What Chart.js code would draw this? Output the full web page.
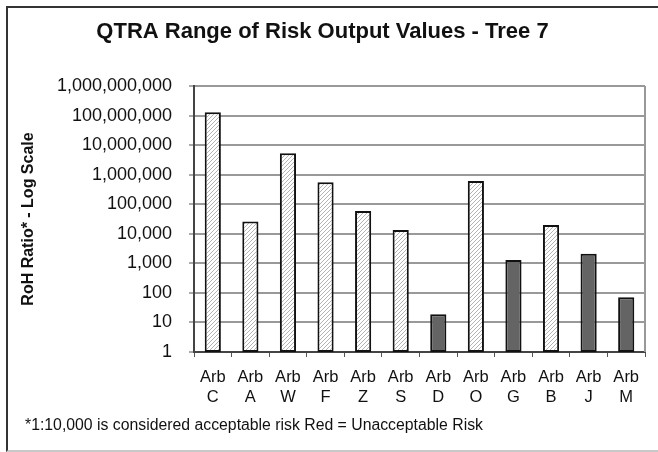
<!DOCTYPE html>
<html>
<head>
<meta charset="utf-8">
<script src="https://cdn.jsdelivr.net/npm/chart.js@4.4.1/dist/chart.umd.min.js"></script>
<style>
  html, body { margin: 0; padding: 0; background: #fff; }
  #wrap { position: relative; width: 658px; height: 452px; overflow: hidden; }
  #frame {
    position: absolute; left: 6px; top: 6px; width: 700px; height: 446px;
    box-sizing: border-box;
    border-left: 2px solid #333; border-top: 2px solid #333; border-bottom: 2px solid #c8c8c8;
  }
  #note {
    position: absolute; left: 25px; top: 416px;
    font: 15.8px "Liberation Sans", Arial, sans-serif; line-height: 18px; color: #111;
    white-space: nowrap;
  }
</style>
</head>
<body>
<div id="wrap">
  <canvas id="chartRisk"></canvas>
  <div id="frame"></div>
  <div id="note">*1:10,000 is considered acceptable risk Red = Unacceptable Risk</div>
</div>
<script>
// data
const letters = ["C", "A", "W", "F", "Z", "S", "D", "O", "G", "B", "J", "M"];
const rohValues = [130000000, 26000, 5300000, 550000, 59000, 13400, 19, 610000, 1300, 20000, 2100, 71];
const barKind = ["hatch", "hatch", "hatch", "hatch", "hatch", "hatch", "solid", "hatch", "solid", "hatch", "solid", "solid"];
const tickValues = [1, 10, 100, 1000, 10000, 100000, 1000000, 10000000, 100000000, 1000000000];

const fontName = "'Liberation Sans', Arial, sans-serif";

// diagonal hatch "/"
function makeHatch() {
  const c = document.createElement("canvas");
  c.width = 4; c.height = 4;
  const g = c.getContext("2d");
  g.fillStyle = "#fff";
  g.fillRect(0, 0, 4, 4);
  g.fillStyle = "#b4b4b4";
  for (let i = 0; i < 4; i++) g.fillRect(3 - i, i, 1, 1);
  return g.createPattern(c, "repeat");
}

document.addEventListener("DOMContentLoaded", () => {
  const ctx = document.getElementById("chartRisk");
  const hatch = makeHatch();

  // right edge of the plot box
  const plotEdge = {
    id: "plotEdge",
    beforeDatasetsDraw(chart) {
      const a = chart.chartArea, c = chart.ctx;
      c.save();
      c.strokeStyle = "#999";
      c.lineWidth = 2;
      c.beginPath();
      c.moveTo(a.right, a.top);
      c.lineTo(a.right, a.bottom);
      c.stroke();
      c.restore();
    }
  };

  new Chart(ctx, {
    type: "bar",
    data: {
      labels: letters.map(l => ["Arb", l]),
      datasets: [{
        data: rohValues,
        backgroundColor: barKind.map(k => k === "hatch" ? hatch : "#646464"),
        borderColor: "#111",
        borderWidth: 2,
        borderSkipped: false,
        barPercentage: 0.43,
        categoryPercentage: 1.0
      }]
    },
    options: {
      responsive: true,
      maintainAspectRatio: false,
      animation: false,
      layout: { padding: { top: 0, left: 0, right: 13, bottom: 42 } },
      plugins: {
        legend: { display: false },
        tooltip: { enabled: false },
        title: {
          display: true,
          text: "QTRA Range of Risk Output Values - Tree 7",
          color: "#111",
          font: { family: fontName, size: 22, weight: "bold" },
          padding: { top: 19, bottom: 40.6 }
        }
      },
      scales: {
        x: {
          afterFit(scale) { scale.height = 58; },
          grid: { drawOnChartArea: false, tickLength: 5, color: "#555", lineWidth: 1 },
          border: { color: "#444", width: 2 },
          ticks: {
            color: "#111",
            padding: 11,
            maxRotation: 0,
            autoSkip: false,
            font: { family: fontName, size: 16.5, lineHeight: 1.2 }
          }
        },
        y: {
          type: "logarithmic",
          min: 1,
          max: 1000000000,
          afterFit(scale) { scale.width = 194; },
          afterBuildTicks(scale) { scale.ticks = tickValues.map(v => ({ value: v })); },
          grid: { color: "#999", lineWidth: 2, tickLength: 5, tickColor: "#555", tickWidth: 1 },
          border: { color: "#444", width: 2 },
          ticks: {
            color: "#111",
            padding: 17,
            font: { family: fontName, size: 18 },
            callback: v => Number(v).toLocaleString("en-US")
          },
          title: {
            display: true,
            text: "RoH Ratio* - Log Scale",
            color: "#111",
            font: { family: fontName, size: 16, weight: "bold" },
            padding: { top: 19, bottom: 0 }
          }
        }
      }
    },
    plugins: [plotEdge]
  });
});
</script>
</body>
</html>
